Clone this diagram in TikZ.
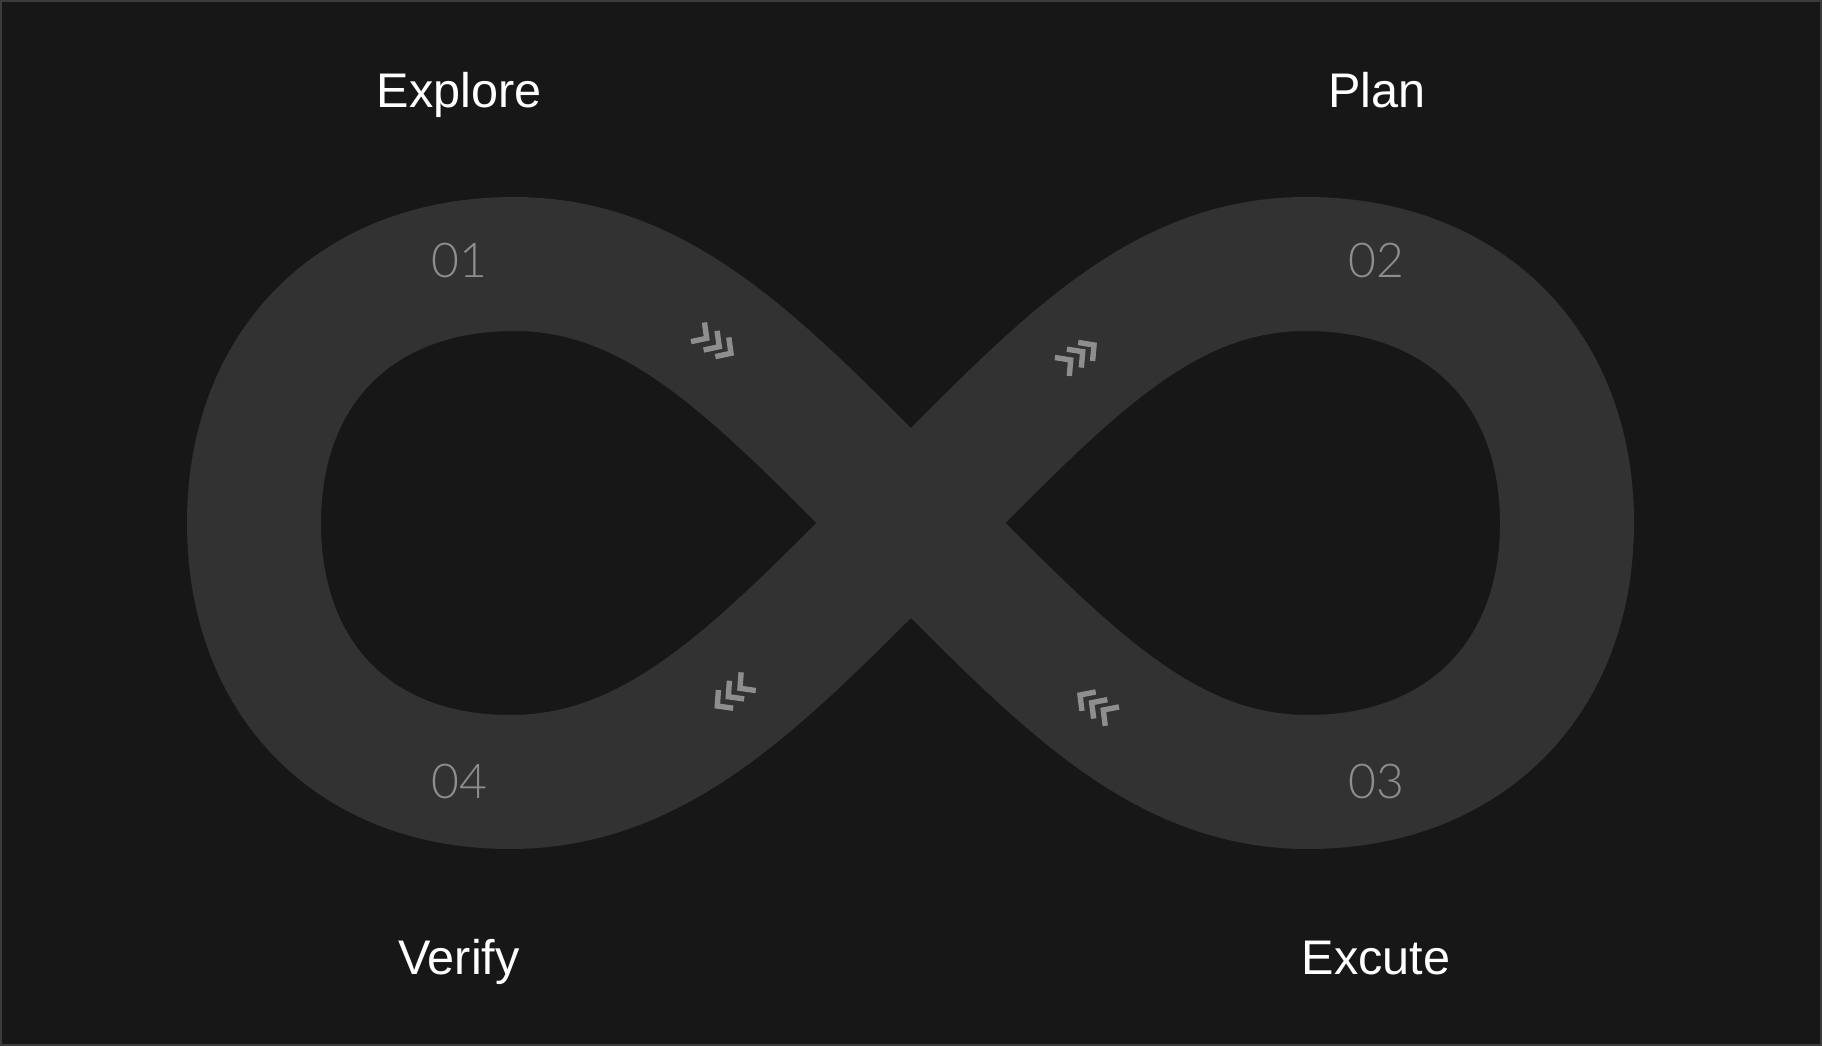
\documentclass[tikz,border=0pt]{standalone}
\usepackage{fontspec}
\setmainfont{Liberation Sans}
\IfFontExistsTF{Lato Light}{\newfontfamily\numfont{Lato Light}}{\newfontfamily\numfont{Lato}}
\usetikzlibrary{calc}
\definecolor{bgc}{HTML}{171717}
\definecolor{bandc}{HTML}{323232}
\definecolor{framec}{HTML}{3C3C3C}
\definecolor{numc}{HTML}{8E8E8E}
\definecolor{chevc}{HTML}{8E8E8E}
\tikzset{
  band/.style={draw=bandc, line width=67pt, line join=round},
  chev/.style={draw=chevc, line width=2.7pt, line cap=butt, line join=miter},
  lbl/.style={text=white, anchor=base, inner sep=0pt, font=\fontsize{24.3pt}{28pt}\selectfont},
  num/.style={text=numc, anchor=base, inner sep=0pt, font=\numfont\fontsize{24pt}{28pt}\selectfont},
}
\newcommand\chevmark[2]{\draw[chev, shift={(#1)}, rotate=#2] (227:16) -- (0,0) -- (133:16);}
\begin{document}
\begin{tikzpicture}[x=0.5pt,y=0.5pt]
\useasboundingbox (0,0) rectangle (1822,1046);
\fill[bgc] (0,0) rectangle (1822,1046);
\draw[framec, line width=1pt] (1,1) rectangle (1821,1045);
% infinity band
\coordinate (C) at (911,523);
\coordinate (TL) at (514,782);
\coordinate (LL) at (254,523);
\coordinate (BL) at (510,264);
\coordinate (TR) at (1306,782);
\coordinate (RR) at (1567,523);
\coordinate (BR) at (1308,264);
\draw[band] (C) .. controls (764,670) and (664,782) .. (TL)
  .. controls (357,782) and (254,680) .. (LL)
  .. controls (254,366) and (355,264) .. (BL)
  .. controls (662,264) and (764,376) .. (C)
  .. controls (1058,670) and (1156,782) .. (TR)
  .. controls (1463,782) and (1567,680) .. (RR)
  .. controls (1567,366) and (1463,264) .. (BR)
  .. controls (1158,264) and (1058,376) .. cycle;
% chevrons
\coordinate (a1) at (706.7,707.7);
\coordinate (a2) at (719.3,699.3);
\coordinate (a3) at (731,692.7);
\coordinate (b1) at (1070.7,686);
\coordinate (b2) at (1082.7,694.3);
\coordinate (b3) at (1094,701);
\coordinate (c1) at (1080,351);
\coordinate (c2) at (1091.7,343.3);
\coordinate (c3) at (1103.3,336);
\coordinate (d1) at (717.3,340);
\coordinate (d2) at (728.3,349.3);
\coordinate (d3) at (740,357.7);
\chevmark{a1}{-35}\chevmark{a2}{-35}\chevmark{a3}{-35}
\chevmark{b1}{38}\chevmark{b2}{38}\chevmark{b3}{38}
\chevmark{c1}{144}\chevmark{c2}{144}\chevmark{c3}{144}
\chevmark{d1}{219}\chevmark{d2}{219}\chevmark{d3}{219}
% labels
\node[lbl] (explore) at (459,938) {Explore};
\node[lbl] (plan) at (1377,938) {Plan};
\node[lbl] (verify) at (459,72) {Verify};
\node[lbl] (excute) at (1376,72) {Excute};
% numbers
\node[num] (n1) at (459,768) {01};
\node[num] (n2) at (1376,768) {02};
\node[num] (n3) at (1376,248) {03};
\node[num] (n4) at (459,248) {04};
\end{tikzpicture}
\end{document}
